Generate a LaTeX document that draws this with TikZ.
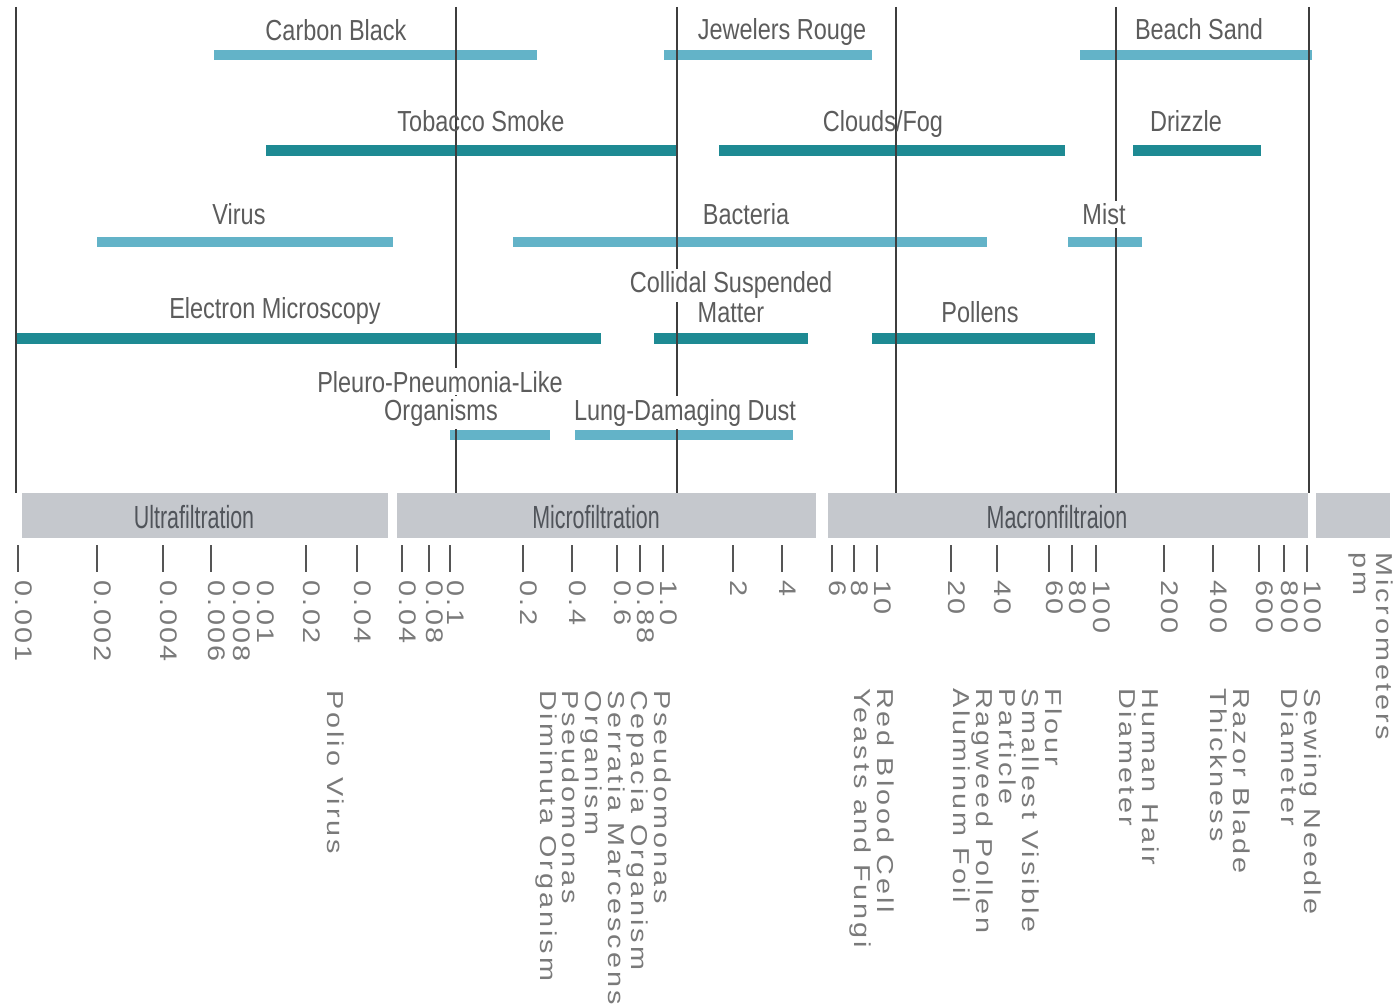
\documentclass[tikz,border=0pt]{standalone}
\usepackage{fontspec}
\setmainfont{Liberation Sans}
\newfontfamily\condfont[FakeStretch=0.81]{Liberation Sans}
\newfontfamily\boxfont[FakeStretch=0.67]{Liberation Sans}
\newfontfamily\widefont[FakeStretch=1.2,LetterSpace=10]{Liberation Sans}
\newfontfamily\widerfont[FakeStretch=1.25,LetterSpace=13]{Liberation Sans}
\definecolor{lightbar}{HTML}{63B3C8}
\definecolor{darkbar}{HTML}{1E8A93}
\definecolor{boxgray}{HTML}{C5C8CD}
\definecolor{labelgray}{HTML}{5C5C5C}
\definecolor{boxtext}{HTML}{50545A}
\definecolor{axisgray}{HTML}{3E3E3E}
\definecolor{tickgray}{HTML}{555555}
\definecolor{ticklabel}{HTML}{7A7A7A}
\tikzset{
  lightbarline/.style={draw=lightbar, line width=10pt},
  darkbarline/.style={draw=darkbar, line width=11pt},
  axisline/.style={draw=axisgray, line width=1.5pt},
  toplabel/.style={font=\condfont\fontsize{29}{30}\selectfont, text=labelgray, inner sep=0pt, anchor=base},
  whitelabel/.style={toplabel, fill=white, inner xsep=1pt, inner ysep=3pt},
  filterbox/.style={fill=boxgray, draw=none},
  boxlabel/.style={font=\boxfont\fontsize{32}{33}\selectfont, text=boxtext, inner sep=0pt, anchor=base},
  tickmark/.style={draw=tickgray, line width=2.4pt},
  ticklab/.style={font=\widefont\fontsize{24}{24}\selectfont, text=ticklabel, inner sep=0pt, rotate=-90, anchor=base west},
  sizelabel/.style={font=\widerfont\fontsize{23}{22.8}\selectfont, text=ticklabel, inner sep=0pt, rotate=-90, anchor=north west, align=left},
}
\begin{document}
\begin{tikzpicture}[x=1pt,y=-1pt]
\useasboundingbox (0,0) rectangle (1397,1008);
% ---------- bars ----------
\draw[lightbarline] (214,55) -- (537,55);
\draw[lightbarline] (664,55) -- (872,55);
\draw[lightbarline] (1080,55) -- (1312,55);
\draw[darkbarline] (266,151) -- (677,151);
\draw[darkbarline] (719,151) -- (1065,151);
\draw[darkbarline] (1133,151) -- (1261,151);
\draw[lightbarline] (97,242) -- (393,242);
\draw[lightbarline] (513,242) -- (987,242);
\draw[lightbarline] (1068,242) -- (1142,242);
\draw[darkbarline] (16,338) -- (601,338);
\draw[darkbarline] (654,338) -- (808,338);
\draw[darkbarline] (872,338) -- (1095,338);
\draw[lightbarline] (450,435) -- (550,435);
\draw[lightbarline] (575,435) -- (793,435);
% ---------- vertical lines ----------
\foreach \x/\n in {16/a,456/b,677/c,896/d,1116/e,1309/f}{
  \coordinate (vt\n) at (\x,7);
  \coordinate (vb\n) at (\x,493);
  \draw[axisline] (vt\n) -- (vb\n);
}
% ---------- labels ----------
\node[toplabel] (carbon) at (336,41) {Carbon Black};
\node[toplabel] (jewel) at (782,40) {Jewelers Rouge};
\node[toplabel] (beach) at (1199,40) {Beach Sand};
\node[toplabel] (tobacco) at (481,132) {Tobacco Smoke};
\node[toplabel] (clouds) at (883,132) {Clouds/Fog};
\node[toplabel] (drizzle) at (1186,132) {Drizzle};
\node[toplabel] (virus) at (239,225) {Virus};
\node[toplabel] (bacteria) at (746,225) {Bacteria};
\node[whitelabel] (mist) at (1104,225) {Mist};
\node[toplabel] (electron) at (275,318) {Electron Microscopy};
\node[whitelabel] (collidal) at (731,293) {Collidal Suspended};
\node[toplabel] (matter) at (731,323) {Matter};
\node[toplabel] (pollens) at (980,323) {Pollens};
\node[whitelabel] (pleuro) at (440,392) {Pleuro-Pneumonia-Like};
\node[whitelabel] (organisms) at (441,420) {Organisms};
\node[whitelabel] (lung) at (685,420) {Lung-Damaging Dust};
% ---------- filtration boxes ----------
\fill[filterbox] (22,493) rectangle (388,538);
\fill[filterbox] (397,493) rectangle (816,538);
\fill[filterbox] (828,493) rectangle (1308,538);
\fill[filterbox] (1316,493) rectangle (1390,538);
\node[boxlabel] (ultra) at (194,528) {Ultrafiltration};
\node[boxlabel] (micro) at (596,528) {Microfiltration};
\node[boxlabel] (macro) at (1057,528) {Macronfiltraion};
% ---------- ticks ----------
\foreach \x/\t [count=\i] in {18/0.001,97/0.002,163/0.004,211/0.006,306/0.02,357/0.04,402/0.04,429/0.08,450/0.1,523/0.2,572/0.4,617/0.6,640/0.88,663/1.0,733/2,782/4,832/6,854/8,877/10,951/20,997/40,1049/60,1072/80,1096/100,1164/200,1213/400,1259/600,1284/800,1307/100}{
  \coordinate (ta\i) at (\x,545);
  \coordinate (tb\i) at (\x,572);
  \draw[tickmark] (ta\i) -- (tb\i);
  \node[ticklab] (tl\i) at (\x-3,580) {\t};
}
\node[ticklab] (tl008) at (233,580) {0.008};
\node[ticklab] (tl01) at (257,580) {0.01};
% ---------- size labels ----------
\node[sizelabel] (polio) at (344,690) {Polio Virus};
\node[sizelabel] (pseudo) at (671,690) {Pseudomonas\\Cepacia Organism\\Serratia Marcescens\\Organism\\Pseudomonas\\Diminuta Organism};
\node[sizelabel] (rbc) at (894,688) {Red Blood Cell\\Yeasts and Fungi};
\node[sizelabel] (flour) at (1062,688) {Flour\\Smallest Visible\\Particle\\Ragweed Pollen\\Aluminum Foil};
\node[sizelabel] (hair) at (1159,688) {Human Hair\\Diameter};
\node[sizelabel] (razor) at (1250,688) {Razor Blade\\Thickness};
\node[sizelabel] (needle) at (1321,688) {Sewing Needle\\Diameter};
\node[sizelabel] (units) at (1393,552) {Micrometers\\pm};
\end{tikzpicture}
\end{document}
